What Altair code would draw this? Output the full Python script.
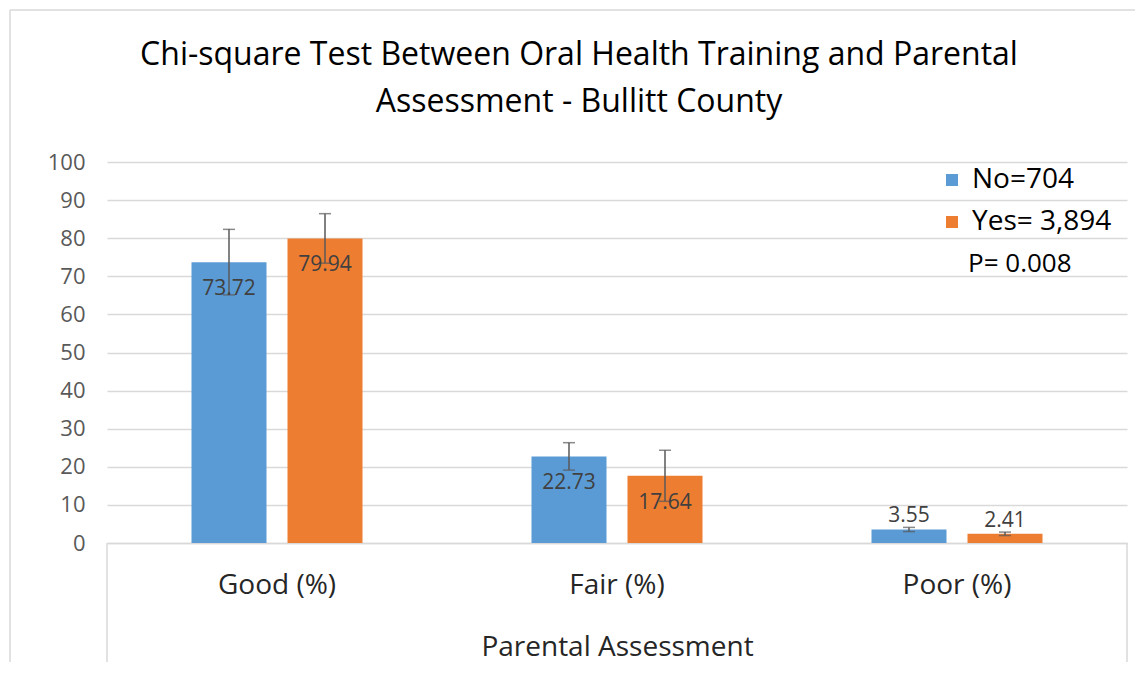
import altair as alt
import pandas as pd

categories = ["Good (%)", "Fair (%)", "Poor (%)"]
groups = ["No=704", "Yes= 3,894"]
no_values = [73.72, 22.73, 3.55]
yes_values = [79.94, 17.64, 2.41]
no_errors = [8.6, 3.6, 0.55]
yes_errors = [6.5, 6.7, 0.45]
y_ticks = [0, 10, 20, 30, 40, 50, 60, 70, 80, 90, 100]
title_lines = ["Chi-square Test Between Oral Health Training and Parental",
               "Assessment - Bullitt County"]
x_title = "Parental Assessment"
p_text = "P= 0.008"
colors = ["#5b9bd5", "#ed7d31"]

rows = []
for i, c in enumerate(categories):
    rows.append({"cat": c, "grp": groups[0], "val": no_values[i], "err": no_errors[i]})
    rows.append({"cat": c, "grp": groups[1], "val": yes_values[i], "err": yes_errors[i]})
df = pd.DataFrame(rows)

FONT = "Open Sans"
W, H = 1020, 381

xscale = alt.Scale(domain=categories, paddingInner=0, paddingOuter=0)
xoffscale = alt.Scale(domain=groups, paddingInner=0.21875, paddingOuter=0.8802)
yscale = alt.Scale(domain=[0, 100], nice=False)

x_axis = alt.Axis(labelAngle=0, labelFontSize=28, labelColor="#262626",
                  labelFont=FONT, labelPadding=28, ticks=False,
                  domainColor="#d9d9d9", domainWidth=1.5,
                  titleFontSize=28, titleFont=FONT, titleColor="#262626",
                  titleFontWeight="normal", titlePadding=34, grid=False)
y_axis = alt.Axis(values=y_ticks, tickCount=11, labelFontSize=22,
                  labelColor="#595959", labelFont=FONT, labelPadding=22,
                  labelOverlap=False, domain=False, ticks=False,
                  gridColor="#d9d9d9", gridWidth=1.5)

x_enc = alt.X("cat:N", sort=categories, title=x_title, scale=xscale, axis=x_axis)
xoff = alt.XOffset("grp:N", sort=groups, scale=xoffscale)


def yenc(field):
    return alt.Y(field, scale=yscale, title=None, axis=y_axis)


bars = alt.Chart(df).mark_bar().encode(
    x=x_enc, xOffset=xoff, y=yenc("val:Q"),
    color=alt.Color("grp:N", sort=groups,
                    scale=alt.Scale(domain=groups, range=colors),
                    legend=alt.Legend(title=None, orient="none", legendX=831,
                                      legendY=4, labelFontSize=28, labelFont=FONT,
                                      labelColor="#000000", symbolType="square",
                                      symbolSize=144, symbolStrokeWidth=0,
                                      labelOffset=6, rowPadding=14, padding=0)),
)

err = alt.Chart(df).transform_calculate(
    lo="datum.val - datum.err", hi="datum.val + datum.err"
).encode(x=x_enc, xOffset=xoff)
err_rule = err.mark_rule(color="#595959", strokeWidth=1.5).encode(
    y=yenc("lo:Q"), y2="hi:Q")
cap_hi = err.mark_tick(color="#595959", thickness=1.5, size=12, orient="horizontal").encode(
    y=yenc("hi:Q"))
cap_lo = err.mark_tick(color="#595959", thickness=1.5, size=12, orient="horizontal").encode(
    y=yenc("lo:Q"))

lab = alt.Chart(df).encode(x=x_enc, xOffset=xoff, y=yenc("val:Q"),
                           text=alt.Text("val:Q", format=".2f"))
labels_in = lab.transform_filter("datum.val >= 10").mark_text(
    font=FONT, fontSize=21, color="#404040", baseline="middle", dy=27)
labels_out = lab.transform_filter("datum.val < 10").mark_text(
    font=FONT, fontSize=21, color="#404040", baseline="middle", dy=-13)

ptxt = alt.Chart(pd.DataFrame({"t": [p_text]})).mark_text(
    font=FONT, fontSize=26, color="#000000", align="left", baseline="middle"
).encode(x=alt.value(861), y=alt.value(102), text="t:N")

title_txt = alt.Chart(pd.DataFrame({"t": [title_lines]})).mark_text(
    font=FONT, fontSize=32, color="#000000", align="center", baseline="middle",
    lineHeight=47
).encode(x=alt.value(472), y=alt.value(55 - 162), text="t")

one = pd.DataFrame({"k": [0]})
sep_l = alt.Chart(one).mark_rule(color="#d9d9d9", strokeWidth=1.5).encode(
    x=alt.value(0), y=alt.value(H), y2=alt.value(H + 122))
sep_r = alt.Chart(one).mark_rule(color="#d9d9d9", strokeWidth=1.5).encode(
    x=alt.value(W), y=alt.value(H), y2=alt.value(H + 122))
frame_v = alt.Chart(one).mark_rule(color="#d9d9d9", strokeWidth=1.5).encode(
    x=alt.value(-97), y=alt.value(-152), y2=alt.value(H + 140))
frame_h = alt.Chart(one).mark_rule(color="#d9d9d9", strokeWidth=1.5).encode(
    x=alt.value(-97), x2=alt.value(W + 40), y=alt.value(-152))

chart = alt.layer(bars, err_rule, cap_hi, cap_lo, labels_in, labels_out, ptxt,
                  title_txt, sep_l, sep_r, frame_v, frame_h).properties(
    width=W, height=H,
    autosize=alt.AutoSizeParams(type="none"),
    padding={"left": 99, "top": 154, "right": 8, "bottom": 119},
).configure_view(stroke=None)

chart.save("out.html", embed_options={"renderer": "svg", "actions": False})
